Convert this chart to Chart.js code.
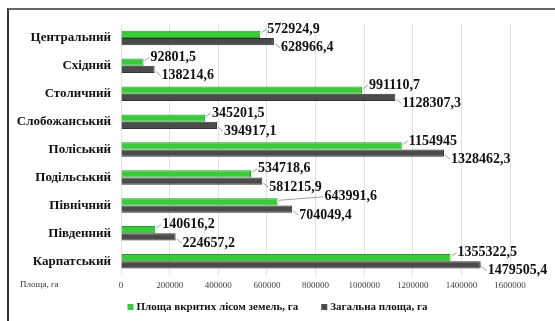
<!DOCTYPE html>
<html>
<head>
<meta charset="utf-8">
<script src="https://cdn.jsdelivr.net/npm/chart.js@4"></script>
<style>
  html, body { margin: 0; padding: 0; background: #fff; }
  #frame {
    position: absolute; left: 7px; top: 8px; width: 560px; height: 330px;
    border-left: 2px solid #333; border-top: 2px solid #666;
  }
  #wrap { position: absolute; left: 0; top: 0; width: 555px; height: 321px; }
</style>
</head>
<body>
<div id="frame"></div>
<div id="wrap"><canvas id="chart" width="555" height="321"></canvas></div>
<script>
// regions, top to bottom
const regions = ['Центральний', 'Східний', 'Столичний', 'Слобожанський', 'Поліський',
                 'Подільський', 'Північний', 'Південний', 'Карпатський'];
// forest covered area, ha
const forestArea = [572924.9, 92801.5, 991110.7, 345201.5, 1154945,
                    534718.6, 643991.6, 140616.2, 1355322.5];
// total area, ha
const totalArea = [628966.4, 138214.6, 1128307.3, 394917.1, 1328462.3,
                   581215.9, 704049.4, 224657.2, 1479505.4];
const seriesNames = ['Площа вкритих лісом земель, га', 'Загальна площа, га'];
const axisTitle = 'Площа, га';
const xMax = 1600000;
const xStep = 200000;

const SERIF = '"Times New Roman", "Liberation Serif", serif';
const colors = ['#3acb3a', '#4b4b4b'];

const fmt = v => String(v).replace('.', ',');

// value labels right of each bar, nudged right when they would overlap
const valueLabels = {
    id: 'valueLabels',
    afterDatasetsDraw(chart) {
        const ctx = chart.ctx;
        ctx.save();
        ctx.font = 'bold 14px ' + SERIF;
        ctx.textBaseline = 'middle';
        ctx.textAlign = 'left';
        const items = [];
        chart.data.labels.forEach((_, i) => {
            chart.data.datasets.forEach((ds, di) => {
                const bar = chart.getDatasetMeta(di).data[i];
                items.push({ bar, text: fmt(ds.data[i]), dy: di === 0 ? -5 : 6 });
            });
        });
        const placed = [];
        items.forEach(it => {
            const w = ctx.measureText(it.text).width;
            const ty = it.bar.y + it.dy;
            let tx = it.bar.x + 7;
            const hits = x => placed.some(p => x < p.x2 && x + w > p.x1 && ty - 5.5 < p.y2 && ty + 5.5 > p.y1);
            while (hits(tx)) tx += 4;
            placed.push({ x1: tx, x2: tx + w, y1: ty - 5.5, y2: ty + 5.5 });
            ctx.strokeStyle = '#888';
            ctx.lineWidth = 0.8;
            ctx.beginPath();
            ctx.moveTo(it.bar.x + 1, it.bar.y + it.dy * 0.3);
            ctx.lineTo(tx - 1, ty);
            ctx.stroke();
            ctx.fillStyle = '#111';
            ctx.fillText(it.text, tx, ty);
        });
        ctx.restore();
    }
};

// axis caption and legend drawn under the plot
const footer = {
    id: 'footer',
    afterDraw(chart) {
        const ctx = chart.ctx;
        const xs = chart.scales.x;
        ctx.save();
        ctx.font = '9px ' + SERIF;
        ctx.fillStyle = '#333';
        ctx.textBaseline = 'middle';
        ctx.textAlign = 'left';
        ctx.fillText(axisTitle, 20, xs.top + 9);

        ctx.font = 'bold 11px ' + SERIF;
        const box = 6, gap = 3, spacing = 23;
        const widths = seriesNames.map(s => box + gap + ctx.measureText(s).width);
        const total = widths.reduce((a, b) => a + b, 0) + spacing;
        let x = (chart.width - total) / 2;
        const y = xs.bottom + 11;
        seriesNames.forEach((s, i) => {
            ctx.fillStyle = colors[i];
            ctx.fillRect(x, y - box / 2, box, box);
            ctx.fillStyle = '#111';
            ctx.fillText(s, x + box + gap, y);
            x += widths[i] + spacing;
        });
        ctx.restore();
    }
};

new Chart(document.getElementById('chart').getContext('2d'), {
    type: 'bar',
    data: {
        labels: regions,
        datasets: [{
            label: seriesNames[0],
            data: forestArea,
            backgroundColor: colors[0],
            borderColor: '#2a9a2a',
            borderWidth: 1,
            categoryPercentage: 0.52,
            barPercentage: 1.0
        }, {
            label: seriesNames[1],
            data: totalArea,
            backgroundColor: colors[1],
            borderColor: '#333',
            borderWidth: 1,
            categoryPercentage: 0.52,
            barPercentage: 1.0
        }]
    },
    options: {
        indexAxis: 'y',
        responsive: false,
        animation: false,
        layout: { padding: { left: 0, right: 45, top: 24, bottom: 25 } },
        scales: {
            x: {
                min: 0,
                max: xMax,
                border: { display: false },
                grid: { color: '#e2e2e2', drawTicks: false },
                ticks: {
                    stepSize: xStep,
                    padding: 5,
                    color: '#444',
                    font: { family: SERIF, size: 9 },
                    callback: v => String(v)
                }
            },
            y: {
                border: { display: false },
                grid: { display: false, drawTicks: false },
                ticks: {
                    color: '#111',
                    padding: 10,
                    font: { family: SERIF, size: 13, weight: 'bold' }
                },
                afterFit(scale) { scale.width = 121; }
            }
        },
        plugins: {
            legend: { display: false },
            tooltip: { enabled: false }
        }
    },
    plugins: [valueLabels, footer]
});
</script>
</body>
</html>
